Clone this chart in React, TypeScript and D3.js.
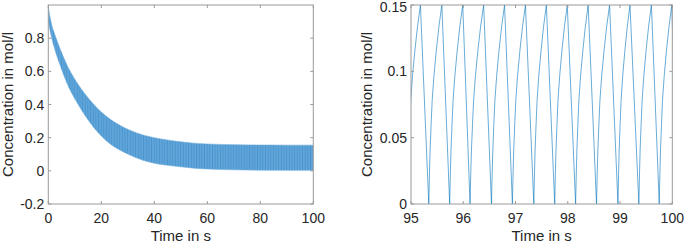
import React from "react";
import * as d3 from "d3";

// Left panel: envelope of the dense oscillation
const leftTime = [0, 1, 2.5, 4.6, 7, 10.9, 14, 17.2, 20, 23.5, 27, 30.8, 36, 40, 45, 50, 55, 60, 70, 80, 90, 100];
const leftUpper = [0.99, 0.9, 0.82, 0.73, 0.64, 0.53, 0.46, 0.4, 0.355, 0.31, 0.275, 0.245, 0.215, 0.2, 0.186, 0.175, 0.167, 0.162, 0.158, 0.156, 0.155, 0.155];
const leftLower = [0.9, 0.82, 0.73, 0.63, 0.53, 0.41, 0.33, 0.26, 0.21, 0.16, 0.125, 0.095, 0.062, 0.046, 0.033, 0.024, 0.016, 0.011, 0.006, 0.004, 0.003, 0.003];
const leftXTicks = [0, 20, 40, 60, 80, 100];
const leftYTicks = [-0.2, 0, 0.2, 0.4, 0.6, 0.8];

// Right panel: sawtooth, troughs and peaks (times)
const troughTimes = [94.93, 95.34, 95.74, 96.13, 96.54, 96.94, 97.35, 97.75, 98.15, 98.55, 98.96, 99.36, 99.75];
const peakTimes = [95.18, 95.59, 95.99, 96.39, 96.79, 97.19, 97.59, 97.99, 98.39, 98.8, 99.19, 99.6, 99.99];
const endPoint = { t: 100.02, c: 0.11 };
// shape of one rising flank (fraction of rise time -> concentration)
const riseFrac = [0, 0.05, 0.1, 0.18, 0.26, 0.4, 0.58, 0.78, 1];
const riseVal = [0, 0.022, 0.04, 0.06, 0.078, 0.097, 0.116, 0.134, 0.15];
const rightXTicks = [95, 96, 97, 98, 99, 100];
const rightYTicks = [0, 0.05, 0.1, 0.15];

const FONT = "'Liberation Sans', Arial, Helvetica, sans-serif";
const TXT = "#262626";
const AX = "#9a9a9a";
const BLUE = "#0072BD";

function Frame({ x, y, xTicks, yTicks, xFmt, yFmt, xLabel, yLabel, yLabelX }: any) {
  const [x0, x1] = x.range();
  const [y0, y1] = y.range(); // y0 bottom, y1 top
  const tl = 3;
  return (
    <g fontFamily={FONT} fill={TXT}>
      <rect x={x0} y={y1} width={x1 - x0} height={y0 - y1} fill="none" stroke={AX} strokeWidth={1} />
      {xTicks.map((t: number) => (
        <g key={"x" + t}>
          <line x1={x(t)} x2={x(t)} y1={y0} y2={y0 - tl} stroke={AX} />
          <line x1={x(t)} x2={x(t)} y1={y1} y2={y1 + tl} stroke={AX} />
          <text x={x(t)} y={y0 + 19} textAnchor="middle" fontSize={14}>{xFmt(t)}</text>
        </g>
      ))}
      {yTicks.map((t: number) => (
        <g key={"y" + t}>
          <line x1={x0} x2={x0 + tl} y1={y(t)} y2={y(t)} stroke={AX} />
          <line x1={x1} x2={x1 - tl} y1={y(t)} y2={y(t)} stroke={AX} />
          <text x={x0 - 4} y={Math.max(y(t) + 5, 11.5)} textAnchor="end" fontSize={14}>{yFmt(t)}</text>
        </g>
      ))}
      <text x={(x0 + x1) / 2} y={y0 + 37} textAnchor="middle" fontSize={15}>{xLabel}</text>
      <text transform={`translate(${yLabelX},${(y0 + y1) / 2}) rotate(-90)`} textAnchor="middle" fontSize={15}>{yLabel}</text>
    </g>
  );
}

export default function App() {
  const xL = d3.scaleLinear().domain([0, 100]).range([48.3, 313.3]);
  const yL = d3.scaleLinear().domain([-0.2, 1.0]).range([204, 5]);
  const xR = d3.scaleLinear().domain([95, 100]).range([411, 672.3]);
  const yR = d3.scaleLinear().domain([0, 0.15]).range([204, 5]);

  const band = leftTime.map((t, i) => ({ t, u: leftUpper[i], l: leftLower[i] }));
  const area = d3
    .area<any>()
    .x((d) => xL(d.t))
    .y0((d) => yL(d.l))
    .y1((d) => yL(d.u))
    .curve(d3.curveMonotoneX);

  const pts: { t: number; c: number }[] = [];
  troughTimes.forEach((tt, i) => {
    const tp = peakTimes[i];
    riseFrac.forEach((f, j) => pts.push({ t: tt + f * (tp - tt), c: riseVal[j] }));
  });
  pts.push(endPoint);
  const line = d3
    .line<any>()
    .x((d) => xR(d.t))
    .y((d) => yR(d.c));

  const fmtL = (v: number) => (Math.abs(v) < 1e-9 ? "0" : String(+v.toFixed(1)));
  const fmtR = (v: number) => (Math.abs(v) < 1e-9 ? "0" : String(+v.toFixed(2)));
  const bandPath = area(band) as string;

  return (
    <svg width={685} height={245} style={{ position: "absolute", left: 0, top: 0, background: "#fff" }}>
      <defs>
        <clipPath id="clipL">
          <rect x={48.3} y={5} width={265} height={199} />
        </clipPath>
        <clipPath id="clipR">
          <rect x={411} y={4} width={261.3} height={201} />
        </clipPath>
        <pattern id="streaks" patternUnits="userSpaceOnUse" width={2.65} height={10}>
          <rect x={0} y={0} width={0.8} height={10} fill="#1a6fb5" fillOpacity={0.35} />
        </pattern>
      </defs>
      <g clipPath="url(#clipL)">
        <path d={bandPath} fill="#4495d4" fillOpacity={0.85} stroke="#7ab5e1" strokeWidth={0.6} />
        <path d={bandPath} fill="url(#streaks)" stroke="none" />
      </g>
      <Frame x={xL} y={yL} xTicks={leftXTicks} yTicks={leftYTicks} xFmt={(v: number) => String(v)} yFmt={fmtL}
        xLabel="Time in s" yLabel="Concentration in mol/l" yLabelX={13} />
      <g clipPath="url(#clipR)">
        <path d={line(pts) as string} fill="none" stroke={BLUE} strokeWidth={0.7} strokeOpacity={0.85} />
      </g>
      <Frame x={xR} y={yR} xTicks={rightXTicks} yTicks={rightYTicks} xFmt={(v: number) => String(v)} yFmt={fmtR}
        xLabel="Time in s" yLabel="Concentration in mol/l" yLabelX={372} />
    </svg>
  );
}
